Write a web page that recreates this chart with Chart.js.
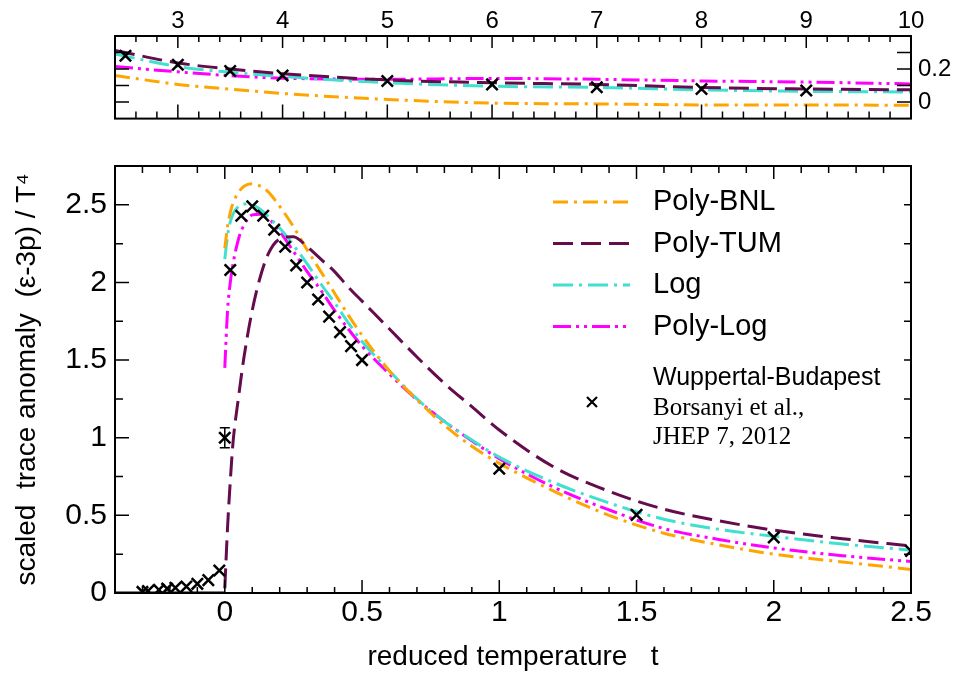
<!DOCTYPE html>
<html>
<head>
<meta charset="utf-8">
<script src="https://cdn.jsdelivr.net/npm/chart.js@4.4.1/dist/chart.umd.min.js"></script>
<style>
  body { margin: 0; background: #fff; }
  #wrap { position: relative; width: 955px; height: 677px; }
  canvas { position: absolute; left: 0; }
  #topChart { top: 0; width: 955px; height: 140px; }
  #mainChart { top: 140px; width: 955px; height: 537px; }
</style>
</head>
<body>
<div id="wrap">
  <canvas id="topChart" width="955" height="140"></canvas>
  <canvas id="mainChart" width="955" height="537"></canvas>
</div>
<script>
// lattice points, Wuppertal-Budapest (reduced temperature t)
const latT = [-0.30, -0.28, -0.24, -0.21, -0.18, -0.14, -0.10, -0.06, -0.02, 0.0,
              0.02, 0.06, 0.10, 0.14, 0.18, 0.22, 0.26, 0.30, 0.34, 0.38, 0.42, 0.46, 0.50,
              1.0, 1.5, 2.0, 2.5];
const latV = [0.007, 0.013, 0.02, 0.028, 0.034, 0.042, 0.059, 0.083, 0.145, 1.0,
              2.08, 2.43, 2.49, 2.43, 2.34, 2.23, 2.11, 2.0, 1.89, 1.78, 1.68, 1.59, 1.50,
              0.80, 0.503, 0.358, 0.271];
const latErr = [0, 0, 0, 0, 0, 0, 0, 0, 0, 0.065,
                0, 0, 0, 0, 0, 0, 0, 0, 0, 0, 0, 0, 0,
                0, 0, 0, 0];

// high temperature part (upper panel)
const hiT = [2.5, 3, 3.5, 4, 5, 6, 7, 8, 9];
const hiV = [0.28, 0.226, 0.188, 0.161, 0.128, 0.107, 0.09, 0.079, 0.07];

// model curves, main panel
const curveT = [0, 0.01, 0.02, 0.03, 0.05, 0.07, 0.1, 0.13, 0.16, 0.2, 0.25, 0.3, 0.35, 0.4,
                0.45, 0.5, 0.6, 0.7, 0.8, 0.9, 1.0, 1.2, 1.4, 1.6, 1.8, 2.0, 2.25, 2.5];
const polyBNL = [2.22, 2.36, 2.45, 2.51, 2.58, 2.62, 2.635, 2.62, 2.58, 2.49, 2.36, 2.21, 2.07, 1.93,
                 1.79, 1.66, 1.43, 1.245, 1.08, 0.945, 0.835, 0.655, 0.5, 0.385, 0.31, 0.25, 0.2, 0.152];
const polyTUM = [0.03, 0.42, 0.72, 0.97, 1.26, 1.52, 1.82, 2.04, 2.19, 2.28, 2.295, 2.23, 2.15, 2.07,
                 1.97, 1.88, 1.7, 1.52, 1.35, 1.2, 1.05, 0.81, 0.655, 0.54, 0.465, 0.405, 0.35, 0.302];
const logFit = [2.15, 2.3, 2.39, 2.44, 2.49, 2.505, 2.5, 2.47, 2.42, 2.35, 2.24, 2.12, 1.99, 1.87,
                1.74, 1.62, 1.43, 1.25, 1.105, 0.985, 0.875, 0.71, 0.58, 0.475, 0.41, 0.365, 0.315, 0.276];
const polyLog = [1.45, 1.82, 2.0, 2.12, 2.28, 2.37, 2.435, 2.44, 2.41, 2.33, 2.2, 2.07, 1.95, 1.82,
                 1.7, 1.59, 1.41, 1.245, 1.105, 0.98, 0.865, 0.68, 0.535, 0.415, 0.345, 0.29, 0.24, 0.203];
const belowT = [-0.4, 0];
const belowV = [0, 0];

// model curves, upper panel
const hiCurveT = [2.4, 3, 3.5, 4, 5, 6, 7, 8, 9, 10];
const hiBNL = [0.161, 0.107, 0.078, 0.052, 0.016, -0.006, -0.011, -0.017, -0.017, -0.02];
const hiTUM = [0.313, 0.237, 0.2, 0.172, 0.134, 0.117, 0.107, 0.089, 0.079, 0.074];
const hiLog = [0.291, 0.215, 0.18, 0.155, 0.117, 0.096, 0.089, 0.074, 0.065, 0.061];
const hiPolyLog = [0.215, 0.183, 0.16, 0.145, 0.138, 0.143, 0.138, 0.128, 0.121, 0.11];

// tick labels
const mainXTicks = [0, 0.5, 1, 1.5, 2, 2.5];
const mainYTicks = [0, 0.5, 1, 1.5, 2, 2.5];
const hiXTicks = [3, 4, 5, 6, 7, 8, 9, 10];
const hiYTicks = [0, 0.2];

const ORANGE = '#ffa500', PURPLE = '#640c4c', CYAN = '#40e0d0', MAGENTA = '#ff00ff';

Chart.defaults.font.family = "'Liberation Sans', Arial, sans-serif";
Chart.defaults.color = '#000';
Chart.defaults.animation = false;

function pts(ts, vs) { return ts.map((t, i) => ({ x: t, y: vs[i] })); }

function line(label, ts, vs, color, dash, legendPos) {
  return {
    label, data: pts(ts, vs), showLine: true, borderColor: color, borderWidth: 3,
    borderDash: dash, pointRadius: 0, fill: false, cubicInterpolationMode: 'monotone',
    legendPos
  };
}

const plainNum = v => String(v);

// inward tick marks + frame, positions taken from the chart scales
const frameTicks = {
  id: 'frameTicks',
  afterDatasetsDraw(chart, args, opts) {
    const ctx = chart.ctx;
    const { left, right, top, bottom } = chart.chartArea;
    ctx.save();
    ctx.strokeStyle = '#000';
    ctx.lineWidth = 1.5;
    for (const a of opts.axes) {
      const sc = chart.scales[a.scale];
      const vals = [];
      a.majors.forEach(v => vals.push([v, a.majorLen]));
      if (a.minorStep) {
        for (let i = Math.ceil(sc.min / a.minorStep - 1e-9); i * a.minorStep <= sc.max + 1e-9; i++) {
          const v = i * a.minorStep;
          if (a.majors.some(m => Math.abs(m - v) < 1e-6)) continue;
          vals.push([v, a.minorLen]);
        }
      }
      ctx.beginPath();
      for (const [v, len] of vals) {
        if (v <= sc.min + 1e-9 || v >= sc.max - 1e-9) continue;
        const p = sc.getPixelForValue(v);
        if (a.side === 'bottom') { ctx.moveTo(p, bottom); ctx.lineTo(p, bottom - len); }
        if (a.side === 'top') { ctx.moveTo(p, top); ctx.lineTo(p, top + len); }
        if (a.side === 'left') { ctx.moveTo(left, p); ctx.lineTo(left + len, p); }
        if (a.side === 'right') { ctx.moveTo(right, p); ctx.lineTo(right - len, p); }
      }
      ctx.stroke();
    }
    ctx.lineWidth = 2;
    ctx.strokeRect(left, top, right - left, bottom - top);
    ctx.restore();
  }
};

// vertical error bars
const errBars = {
  id: 'errBars',
  afterDatasetsDraw(chart) {
    const ctx = chart.ctx;
    const xs = chart.scales.x, ys = chart.scales.y;
    chart.data.datasets.forEach(ds => {
      if (!ds.errors) return;
      ctx.save();
      ctx.strokeStyle = '#000';
      ctx.lineWidth = 1.5;
      ds.data.forEach((p, i) => {
        const e = ds.errors[i];
        if (!e) return;
        const px = xs.getPixelForValue(p.x);
        const y1 = ys.getPixelForValue(p.y - e), y2 = ys.getPixelForValue(p.y + e);
        ctx.beginPath();
        ctx.moveTo(px, y1); ctx.lineTo(px, y2);
        ctx.moveTo(px - 5, y1); ctx.lineTo(px + 5, y1);
        ctx.moveTo(px - 5, y2); ctx.lineTo(px + 5, y2);
        ctx.stroke();
      });
      ctx.restore();
    });
  }
};

// legend in the upper right of the main panel
const sideLegend = {
  id: 'sideLegend',
  afterDraw(chart) {
    const ctx = chart.ctx;
    ctx.save();
    const items = chart.data.datasets.filter(d => d.legendPos).sort((a, b) => a.legendPos - b.legendPos);
    items.forEach((ds, i) => {
      const y = 62 + i * 41.5;
      ctx.strokeStyle = ds.borderColor;
      ctx.lineWidth = ds.borderWidth;
      ctx.setLineDash(ds.borderDash || []);
      ctx.beginPath();
      ctx.moveTo(553, y); ctx.lineTo(630, y);
      ctx.stroke();
      ctx.setLineDash([]);
      ctx.fillStyle = '#000';
      ctx.font = "29px 'Liberation Sans', Arial, sans-serif";
      ctx.textBaseline = 'middle';
      ctx.fillText(ds.label, 653, y);
    });
    // data entry
    ctx.strokeStyle = '#000';
    ctx.lineWidth = 2.2;
    ctx.beginPath();
    ctx.moveTo(587, 257); ctx.lineTo(597, 267);
    ctx.moveTo(597, 257); ctx.lineTo(587, 267);
    ctx.stroke();
    ctx.fillStyle = '#000';
    ctx.textBaseline = 'middle';
    ctx.font = "25px 'Liberation Sans', Arial, sans-serif";
    ctx.fillText('Wuppertal-Budapest', 653, 238);
    ctx.font = "25px 'Liberation Serif', 'Times New Roman', serif";
    ctx.fillText('Borsanyi et al.,', 653, 268);
    ctx.fillText('JHEP 7, 2012', 653, 297);
    ctx.restore();
  }
};

new Chart(document.getElementById('topChart'), {
  type: 'scatter',
  data: {
    datasets: [
      { label: 'Wuppertal-Budapest', data: pts(hiT, hiV), pointStyle: 'crossRot', pointRadius: 8,
        borderColor: '#000', borderWidth: 2.5 },
      line('Poly-TUM', hiCurveT, hiTUM, PURPLE, [20, 8]),
      line('Log', hiCurveT, hiLog, CYAN, [20, 6, 3, 6]),
      line('Poly-Log', hiCurveT, hiPolyLog, MAGENTA, [18, 5, 3, 5, 3, 5]),
      line('Poly-BNL', hiCurveT, hiBNL, ORANGE, [15, 6, 3, 6])
    ]
  },
  options: {
    responsive: false,
    events: [],
    layout: { padding: { left: 115, bottom: 12, top: 0, right: 0 } },
    scales: {
      x: {
        type: 'linear', position: 'top', min: 2.4, max: 10,
        grid: { display: false, drawTicks: false }, border: { display: false },
        ticks: { font: { size: 24 }, padding: 0, maxRotation: 0, autoSkip: false, callback: plainNum },
        afterBuildTicks: s => { s.ticks = hiXTicks.map(v => ({ value: v })); },
        afterFit: s => { s.height = 36; }
      },
      y: {
        type: 'linear', position: 'right', min: -0.1, max: 0.4,
        grid: { display: false, drawTicks: false }, border: { display: false },
        ticks: { font: { size: 24 }, padding: 7, callback: plainNum },
        afterBuildTicks: s => { s.ticks = hiYTicks.map(v => ({ value: v })); },
        afterFit: s => { s.width = 44; }
      }
    },
    plugins: {
      legend: { display: false },
      tooltip: { enabled: false },
      frameTicks: {
        axes: [
          { scale: 'x', side: 'top', majors: hiXTicks, minorStep: 0.2, majorLen: 12, minorLen: 6 },
          { scale: 'x', side: 'bottom', majors: hiXTicks, minorStep: 0.2, majorLen: 14, minorLen: 7 },
          { scale: 'y', side: 'left', majors: [0, 0.1, 0.2, 0.3], majorLen: 14 },
          { scale: 'y', side: 'right', majors: [0, 0.1, 0.2, 0.3], majorLen: 14 }
        ]
      }
    }
  },
  plugins: [frameTicks]
});

new Chart(document.getElementById('mainChart'), {
  type: 'scatter',
  data: {
    datasets: [
      { label: 'Wuppertal-Budapest', data: pts(latT, latV), errors: latErr, pointStyle: 'crossRot',
        pointRadius: 8, borderColor: '#000', borderWidth: 2.5 },
      line('Poly-TUM', curveT, polyTUM, PURPLE, [20, 8], 2),
      line('Poly-BNL', curveT, polyBNL, ORANGE, [15, 6, 3, 6], 1),
      line('Log', curveT, logFit, CYAN, [20, 6, 3, 6], 3),
      line('Poly-Log', curveT, polyLog, MAGENTA, [18, 5, 3, 5, 3, 5], 4),
      line('below Tc', belowT, belowV, '#000', [], 0)
    ]
  },
  options: {
    responsive: false,
    events: [],
    layout: { padding: { left: 0, bottom: 0, top: 8, right: 44 } },
    scales: {
      x: {
        type: 'linear', position: 'bottom', min: -0.4, max: 2.5,
        grid: { display: false, drawTicks: false }, border: { display: false },
        ticks: { font: { size: 30 }, padding: 2, maxRotation: 0, autoSkip: false, callback: plainNum },
        afterBuildTicks: s => { s.ticks = mainXTicks.map(v => ({ value: v })); },
        afterFit: s => { s.height = 84; },
        title: { display: true, text: 'reduced temperature   t', font: { size: 28 }, padding: { top: 0, bottom: 3 } }
      },
      y: {
        type: 'linear', position: 'left', min: 0, max: 2.75,
        grid: { display: false, drawTicks: false }, border: { display: false },
        ticks: { font: { size: 30 }, padding: 8, callback: plainNum },
        afterBuildTicks: s => { s.ticks = mainYTicks.map(v => ({ value: v })); },
        afterFit: s => { s.width = 115; },
        title: { display: true, text: 'scaled  trace anomaly  (\u03b5-3p) / T\u2074', font: { size: 28 }, padding: { top: 10, bottom: 0 } }
      }
    },
    plugins: {
      legend: { display: false },
      tooltip: { enabled: false },
      frameTicks: {
        axes: [
          { scale: 'x', side: 'bottom', majors: mainXTicks, minorStep: 0.1, majorLen: 13, minorLen: 6 },
          { scale: 'x', side: 'top', majors: mainXTicks, minorStep: 0.1, majorLen: 13, minorLen: 7 },
          { scale: 'y', side: 'left', majors: mainYTicks, minorStep: 0.25, majorLen: 14, minorLen: 8 },
          { scale: 'y', side: 'right', majors: [], minorStep: 0.25, majorLen: 7, minorLen: 7 }
        ]
      }
    }
  },
  plugins: [frameTicks, errBars, sideLegend]
});
</script>
</body>
</html>
